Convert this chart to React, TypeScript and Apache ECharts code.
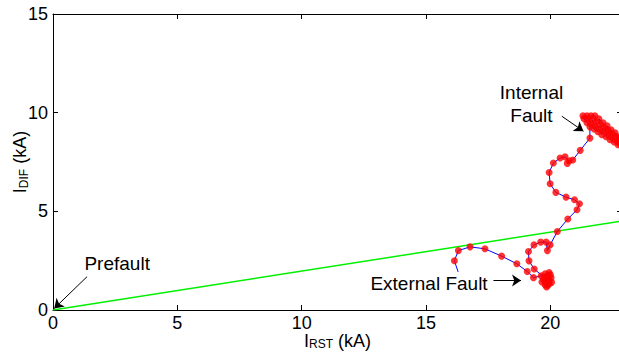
import React, { useEffect, useRef } from "react";
import * as echarts from "echarts";

// ---- axis ranges / ticks ----
const xTicks = [0, 5, 10, 15, 20];
const yTicks = [0, 5, 10, 15];
const xMin = 0;
const xMax = 22.88;
const yMin = 0;
const yMax = 15;

// ---- restraint characteristic (green line) ----
const restraintLine: number[][] = [
  [0, 0],
  [22.88, 4.51],
];

// ---- current trajectory (blue line, red samples) ----
const trajectoryStart: number[][] = [[16.29, 1.93]];
const externalSamples: number[][] = [
  [16.14, 2.5], [16.3, 3.01], [16.77, 3.2], [17.37, 3.1], [18.04, 2.73],
  [18.65, 2.34], [19.07, 1.95], [19.32, 1.64],
  [19.63, 1.73], [19.79, 1.83], [19.95, 1.9], [20.03, 1.63], [19.95, 1.32],
  [19.79, 1.27], [19.66, 1.42], [19.91, 1.57], [20.05, 1.4], [19.85, 1.17],
  [19.95, 1.45], [19.72, 1.55], [19.88, 1.72], [20.0, 1.78], [19.8, 1.4],
  [19.9, 1.25], [19.75, 1.65],
  [19.35, 2.08], [19.14, 2.49], [19.12, 2.96], [19.34, 3.3], [19.61, 3.44],
  [19.83, 3.44], [19.88, 3.01], [19.99, 3.3],
];
const transitionSamples: number[][] = [
  [20.28, 3.98], [20.7, 4.61], [21.07, 5.08], [21.17, 5.38], [20.97, 5.59],
  [20.63, 5.72], [20.22, 5.96], [19.99, 6.4], [19.95, 6.97], [20.12, 7.45],
  [20.39, 7.7], [20.59, 7.76], [20.76, 7.56], [20.68, 7.43], [20.9, 7.6],
  [21.2, 8.09], [21.59, 8.71],
];
const internalSamples: number[][] = [
  [21.59, 9.28], [21.47, 9.49], [21.35, 9.69], [21.31, 9.84], [21.47, 9.84],
  [21.51, 9.69], [21.63, 9.44], [21.75, 9.18], [21.91, 9.03], [21.79, 9.34],
  [21.67, 9.64], [21.63, 9.84], [21.79, 9.84], [21.83, 9.54], [21.95, 9.18],
  [22.07, 8.88], [22.12, 9.08], [21.99, 9.39], [21.95, 9.69], [22.12, 9.49],
  [22.16, 9.23], [22.28, 8.93], [22.24, 8.78], [22.4, 8.63], [22.44, 8.78],
  [22.32, 9.08], [22.28, 9.34], [22.44, 9.13], [22.48, 8.93], [22.6, 8.63],
  [22.56, 8.52], [22.72, 8.37], [22.76, 8.47], [22.64, 8.78], [22.6, 8.98],
  [22.76, 8.78], [22.8, 8.57], [22.88, 8.37], [22.88, 8.27], [22.88, 8.63],
];
const trajectorySamples = [...externalSamples, ...transitionSamples, ...internalSamples];

// ---- annotations ----
const annotationTexts = ["Internal\nFault", "External Fault", "Prefault"];
const annotationPositions: number[][] = [[19.24, 10.44], [15.12, 1.35], [2.58, 2.34]];
const arrowStarts: number[][] = [[20.46, 9.82], [17.71, 1.49], [1.37, 1.69]];
const arrowEnds: number[][] = [[21.33, 9.06], [18.82, 1.49], [0.05, 0.08]];

const FONT = "'Liberation Sans', Arial, Helvetica, sans-serif";

const yNameRich = {
  m: { fontSize: 18, fontFamily: FONT, color: "#000", lineHeight: 20 },
  s: { fontSize: 12, fontFamily: FONT, color: "#000", lineHeight: 11, verticalAlign: "bottom" },
};
const xNameRich = {
  m: { fontSize: 18, fontFamily: FONT, color: "#000", lineHeight: 18 },
  s: { fontSize: 12, fontFamily: FONT, color: "#000", lineHeight: 9, verticalAlign: "bottom" },
};

export default function App() {
  const ref = useRef<HTMLDivElement>(null);

  useEffect(() => {
    document.body.style.margin = "0";
    if (!ref.current) return;
    const chart = echarts.init(ref.current, null, { renderer: "svg" });

    const axisLineStyle = { color: "#000", width: 1 };
    const tickCfg = { show: true, inside: true, length: 5, lineStyle: { color: "#000", width: 1 } };

    chart.setOption({
      animation: false,
      backgroundColor: "#fff",
      grid: { left: 53, top: 14, width: 569, height: 296, outerBoundsMode: "none", containLabel: false },
      xAxis: [
        {
          type: "value",
          position: "bottom",
          min: xMin,
          max: xMax,
          interval: 5,
          axisLine: { show: true, onZero: false, lineStyle: axisLineStyle },
          axisTick: tickCfg,
          splitLine: { show: false },
          axisLabel: {
            fontSize: 18,
            lineHeight: 16,
            color: "#000",
            fontFamily: FONT,
            margin: 5,
            showMaxLabel: false,
            formatter: (v: number) => (xTicks.includes(v) ? String(v) : ""),
          },
          name: "{m|I}{s|RST}{m| (kA)}",
          nameLocation: "middle",
          nameGap: 22,
          nameMoveOverlap: false,
          nameTextStyle: { fontSize: 18, color: "#000", fontFamily: FONT, rich: xNameRich },
        },
        {
          type: "value",
          position: "top",
          min: xMin,
          max: xMax,
          interval: 5,
          axisLine: { show: true, onZero: false, lineStyle: axisLineStyle },
          axisTick: tickCfg,
          splitLine: { show: false },
          axisLabel: { show: false },
        },
      ],
      yAxis: [
        {
          type: "value",
          position: "left",
          min: yMin,
          max: yMax,
          interval: 5,
          axisLine: { show: true, onZero: false, lineStyle: axisLineStyle },
          axisTick: tickCfg,
          splitLine: { show: false },
          axisLabel: {
            fontSize: 18,
            color: "#000",
            fontFamily: FONT,
            margin: 5,
            formatter: (v: number) => (yTicks.includes(v) ? String(v) : ""),
          },
          name: "{m|I}{s|DIF}{m| (kA)}",
          nameLocation: "middle",
          nameGap: 23,
          nameMoveOverlap: false,
          nameTextStyle: { fontSize: 18, color: "#000", fontFamily: FONT, rich: yNameRich },
        },
        {
          type: "value",
          position: "right",
          min: yMin,
          max: yMax,
          interval: 5,
          axisLine: { show: true, onZero: false, lineStyle: axisLineStyle },
          axisTick: tickCfg,
          splitLine: { show: false },
          axisLabel: { show: false },
        },
      ],
      series: [
        {
          name: "restraint",
          type: "line",
          xAxisIndex: 0,
          yAxisIndex: 0,
          data: restraintLine,
          showSymbol: false,
          symbol: "none",
          lineStyle: { color: "#00f000", width: 1.5 },
          z: 2,
        },
        {
          name: "trajectory",
          type: "line",
          xAxisIndex: 0,
          yAxisIndex: 0,
          data: [...trajectoryStart, ...trajectorySamples],
          showSymbol: false,
          symbol: "none",
          lineStyle: { color: "#0000ff", width: 1 },
          z: 3,
          markLine: {
            silent: true,
            symbol: ["none", "arrow"],
            symbolSize: 9,
            lineStyle: { color: "#000", width: 1, type: "solid" },
            itemStyle: { color: "#000" },
            label: { show: false },
            data: arrowStarts.map((s, i) => [{ coord: s }, { coord: arrowEnds[i] }]),
          },
          markPoint: {
            silent: true,
            symbol: "circle",
            symbolSize: 1,
            itemStyle: { color: "rgba(0,0,0,0)" },
            label: {
              show: true,
              position: "inside",
              fontSize: 19,
              lineHeight: 23,
              color: "#000",
              fontFamily: FONT,
              align: "center",
            },
            data: annotationTexts.map((t, i) => ({
              coord: annotationPositions[i],
              name: t,
              value: t,
              label: { formatter: () => annotationTexts[i] },
            })),
          },
        },
        {
          name: "samples",
          type: "scatter",
          xAxisIndex: 0,
          yAxisIndex: 0,
          data: trajectorySamples,
          symbol: "circle",
          symbolSize: 7,
          itemStyle: { color: "#ff0000" },
          z: 4,
        },
      ],
    });

    return () => {
      chart.dispose();
    };
  }, []);

  return (
    <div
      ref={ref}
      style={{ position: "fixed", left: 0, top: 0, width: 619, height: 354, background: "#fff" }}
    />
  );
}
